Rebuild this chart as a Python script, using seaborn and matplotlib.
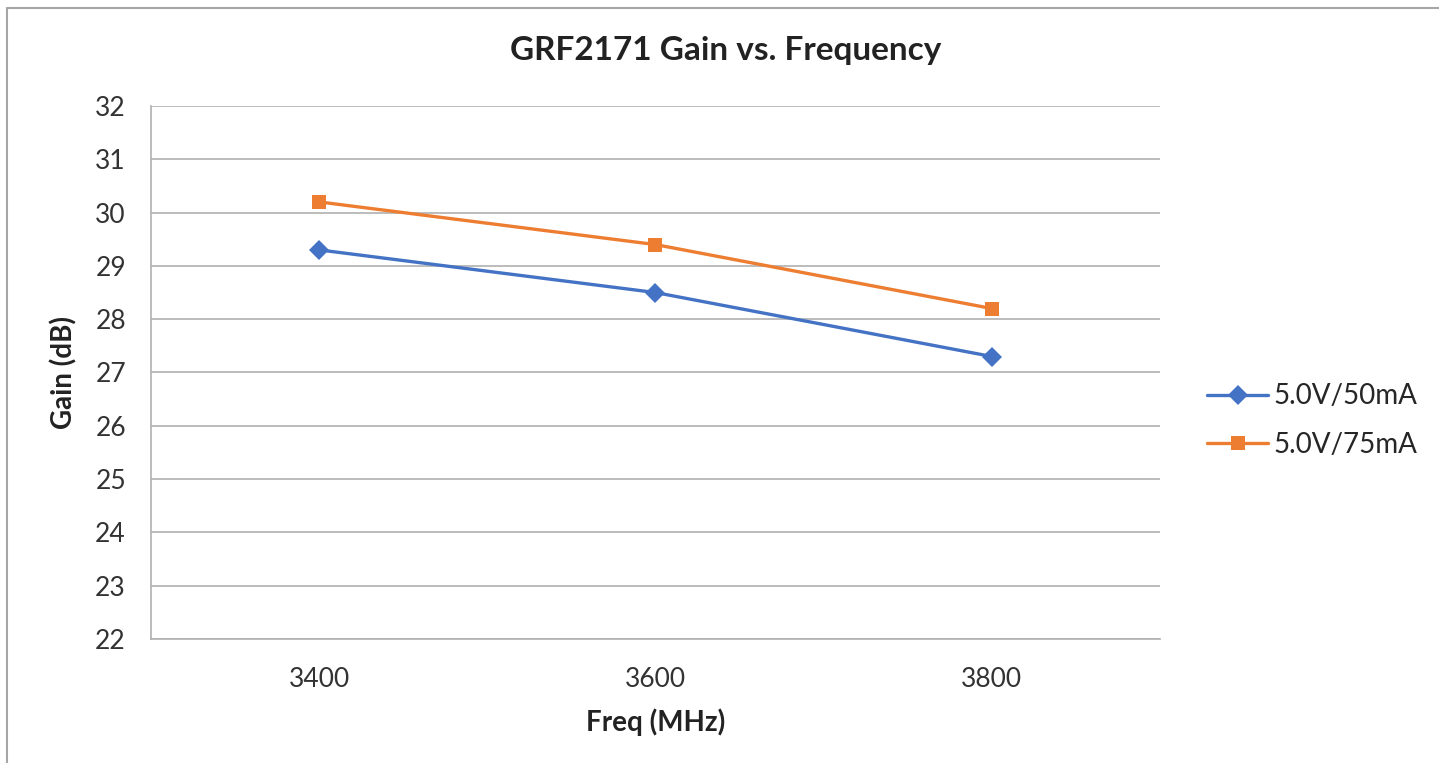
import pandas as pd
import matplotlib.pyplot as plt
import seaborn as sns
from matplotlib.lines import Line2D

# chart data
freqs = ["3400", "3600", "3800"]
gain_50ma = [29.3, 28.5, 27.3]
gain_75ma = [30.2, 29.4, 28.2]
series_names = ["5.0V/50mA", "5.0V/75mA"]

df = pd.DataFrame({
    "pos": list(range(len(freqs))) * 2,
    "gain": gain_50ma + gain_75ma,
    "series": [series_names[0]] * len(freqs) + [series_names[1]] * len(freqs),
})

sns.set_style("white")
plt.rcParams['font.family'] = ['Lato', 'DejaVu Sans']

fig = plt.figure(figsize=(14.39, 7.63), dpi=100)
ax = fig.add_axes([0.1049, 0.1625, 0.7012, 0.6986])

palette = {series_names[0]: "#4472C4", series_names[1]: "#ED7D31"}
markers = {series_names[0]: "D", series_names[1]: "s"}
sns.lineplot(data=df, x="pos", y="gain", hue="series", style="series",
             palette=palette, markers=markers, dashes=False, linewidth=2.4,
             markersize=10, markeredgewidth=0, ax=ax)

ax.set_xlim(-0.5, len(freqs) - 0.5)
ax.set_ylim(22, 32)
ax.set_yticks(range(22, 33))
ax.set_xticks(range(len(freqs)))
ax.set_xticklabels(freqs)
ax.grid(axis="y", color="#B0B0B0", linewidth=1.2)
ax.set_axisbelow(True)
for s in ["top", "right"]:
    ax.spines[s].set_visible(False)
for s in ["left", "bottom"]:
    ax.spines[s].set_color("#B0B0B0")
    ax.spines[s].set_linewidth(1.2)
ax.tick_params(axis="y", length=7, color="#B0B0B0", width=1.2, labelsize=19, pad=11, labelcolor="#333333")
ax.tick_params(axis="x", length=0, labelsize=19, pad=20, labelcolor="#333333")

ax.set_xlabel("Freq (MHz)", fontsize=20, fontweight="bold", labelpad=12, color="#222222")
ax.set_ylabel("Gain (dB)", fontsize=20, fontweight="bold", labelpad=13, color="#222222")
fig.text(0.504, 0.934, "GRF2171 Gain vs. Frequency", ha="center", va="center",
         fontsize=24, fontweight="bold", color="#222222")

leg = ax.legend(loc="center left", bbox_to_anchor=(1.022, 0.41), frameon=False,
                fontsize=20, handlelength=2.2, handletextpad=0.2, labelspacing=0.8)
for line in leg.get_lines():
    line.set_linewidth(2.4)

# outer chart border (left and top edges visible)
fig.add_artist(Line2D([7 / 1439, 7 / 1439], [0, 1 - 8 / 763], transform=fig.transFigure,
                      color="#A6A6A6", linewidth=1.5))
fig.add_artist(Line2D([7 / 1439, 1], [1 - 8 / 763, 1 - 8 / 763], transform=fig.transFigure,
                      color="#A6A6A6", linewidth=1.5))

fig.savefig("out.png", dpi=100)
